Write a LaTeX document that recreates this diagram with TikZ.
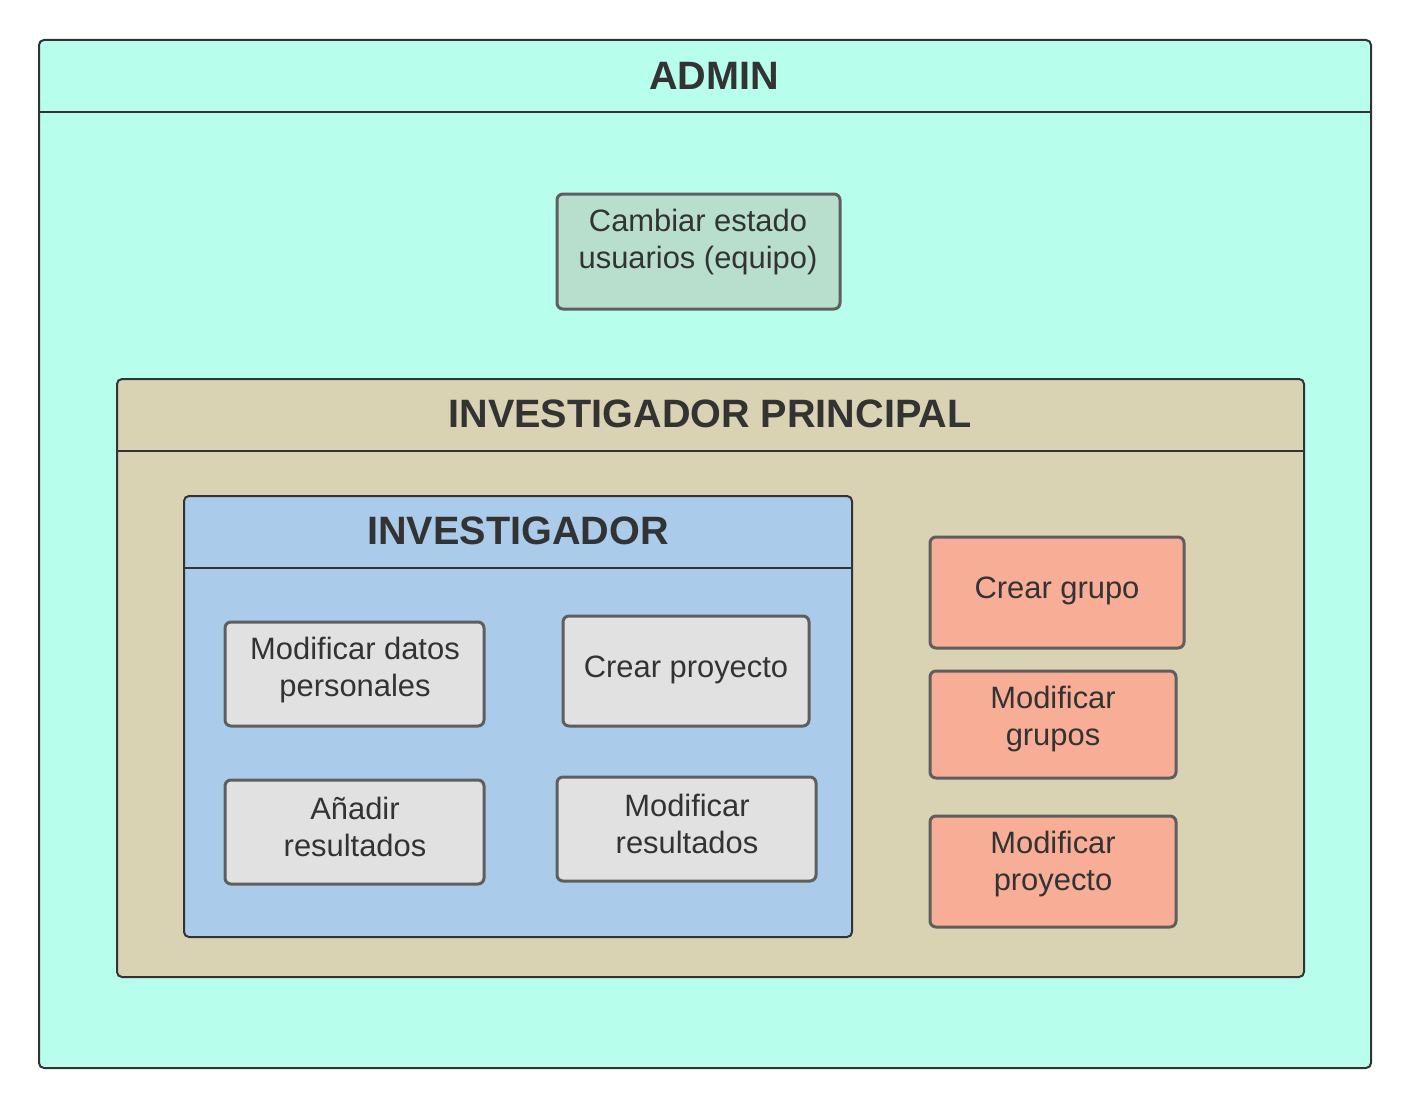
\documentclass[tikz,border=0pt]{standalone}
\usepackage{fontspec}
\setmainfont{Liberation Sans}
\definecolor{adminfill}{RGB}{184,254,236}
\definecolor{camfill}{RGB}{184,223,206}
\definecolor{ipfill}{RGB}{217,211,180}
\definecolor{invfill}{RGB}{170,204,234}
\definecolor{grayfill}{RGB}{225,225,225}
\definecolor{orfill}{RGB}{248,173,151}
\definecolor{darkline}{RGB}{51,51,51}
\definecolor{boxline}{RGB}{94,94,94}
\definecolor{txt}{RGB}{51,51,51}
\tikzset{
  container/.style={draw=darkline, line width=2pt, rounded corners=5pt},
  hdrline/.style={draw=darkline, line width=2pt},
  boxshape/.style={draw=boxline, line width=3pt, rounded corners=6pt},
  title/.style={font=\fontsize{39.6}{46}\selectfont\bfseries, text=txt, inner sep=0pt},
  label/.style={font=\fontsize{30.9}{37.5}\selectfont, text=txt, align=center, inner sep=0pt},
}
\begin{document}
\begin{tikzpicture}[x=1pt,y=-1pt]
\useasboundingbox (0,0) rectangle (1412,1108);
% ADMIN
\filldraw[container, fill=adminfill] (39,40) rectangle (1371,1068);
\coordinate (adminL) at (39,112);
\coordinate (adminR) at (1371,112);
\draw[hdrline] (adminL) -- (adminR);
\node[title] (admintitle) at (714,76) {ADMIN};
% Cambiar
\filldraw[boxshape, fill=camfill] (557,194) rectangle (840,309);
\node[label] (cambiar) at (698,242) {Cambiar estado\\usuarios (equipo)};
% INVESTIGADOR PRINCIPAL
\filldraw[container, fill=ipfill] (117,379) rectangle (1304,977);
\coordinate (ipL) at (117,451);
\coordinate (ipR) at (1304,451);
\draw[hdrline] (ipL) -- (ipR);
\node[title] (iptitle) at (710,414) {INVESTIGADOR PRINCIPAL};
% INVESTIGADOR
\filldraw[container, fill=invfill] (184,496) rectangle (852,937);
\coordinate (invL) at (184,568);
\coordinate (invR) at (852,568);
\draw[hdrline] (invL) -- (invR);
\node[title] (invtitle) at (518,531) {INVESTIGADOR};
% gray boxes
\filldraw[boxshape, fill=grayfill] (225,622) rectangle (484,726);
\node[label] (moddatos) at (355,670) {Modificar datos\\personales};
\filldraw[boxshape, fill=grayfill] (563,616) rectangle (809,726);
\node[label] (crearproy) at (686,670) {Crear proyecto};
\filldraw[boxshape, fill=grayfill] (225,780) rectangle (484,884);
\node[label] (anadir) at (355,827) {Añadir\\resultados};
\filldraw[boxshape, fill=grayfill] (557,777) rectangle (816,881);
\node[label] (modres) at (687,824) {Modificar\\resultados};
% orange boxes
\filldraw[boxshape, fill=orfill] (930,537) rectangle (1184,648);
\node[label] (creargrupo) at (1057,591) {Crear grupo};
\filldraw[boxshape, fill=orfill] (930,671) rectangle (1176,778);
\node[label] (modgrupos) at (1053,719) {Modificar\\grupos};
\filldraw[boxshape, fill=orfill] (930,816) rectangle (1176,927);
\node[label] (modproy) at (1053,864) {Modificar\\proyecto};
\end{tikzpicture}
\end{document}
